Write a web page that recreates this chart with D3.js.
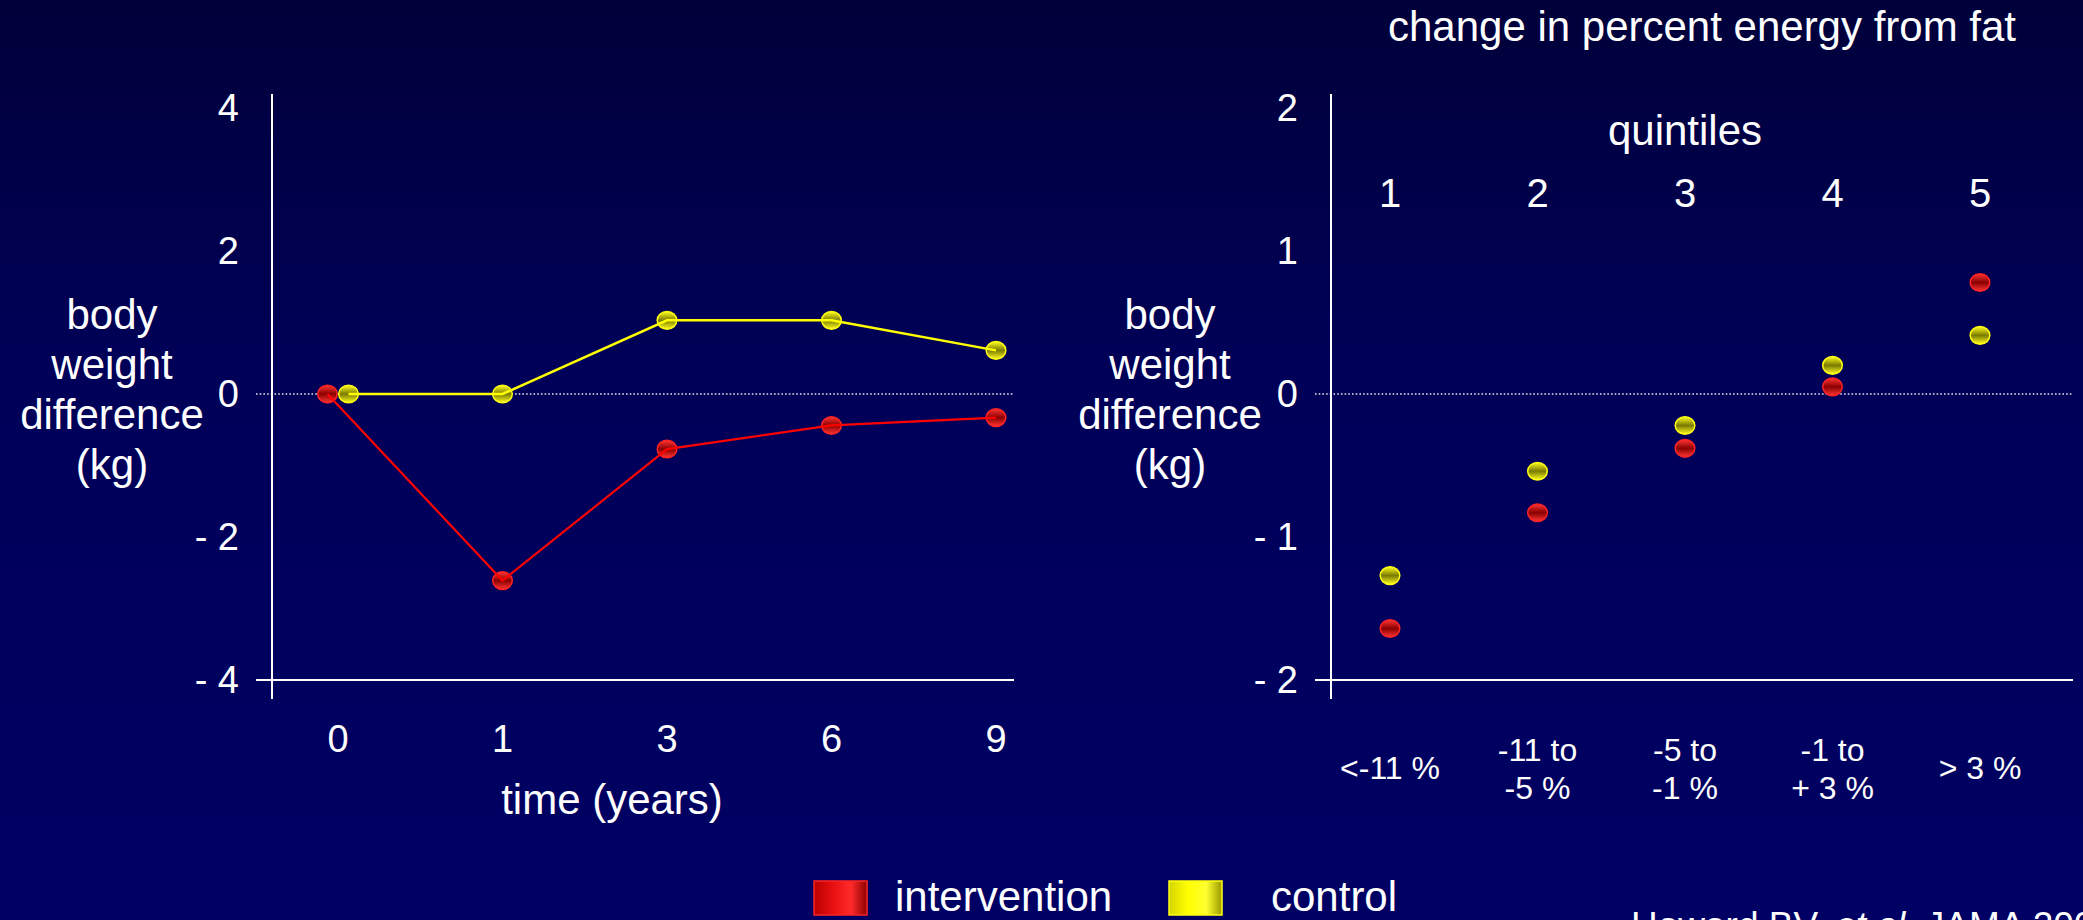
<!DOCTYPE html>
<html>
<head>
<meta charset="utf-8">
<script src="https://cdn.jsdelivr.net/npm/d3@7"></script>
<style>
  html, body { margin: 0; padding: 0; background: #000060; overflow: hidden; }
  svg { display: block; }
</style>
</head>
<body>
<svg id="chart" width="2083" height="920"></svg>
<script>
// ---- data -------------------------------------------------------------
const years = ["0", "1", "3", "6", "9"];
const timeIntervention = [0, -2.61, -0.77, -0.44, -0.33];
const timeControl      = [0, 0, 1.03, 1.03, 0.61];

const quintiles = ["1", "2", "3", "4", "5"];
const fatChangeLabels = [["<-11 %"], ["-11 to", "-5 %"], ["-5 to", "-1 %"], ["-1 to", "+ 3 %"], ["> 3 %"]];
const fatIntervention = [-1.64, -0.83, -0.38, 0.05, 0.78];
const fatControl      = [-1.27, -0.54, -0.22, 0.20, 0.41];

const timeTicks = [4, 2, 0, -2, -4];
const fatTicks  = [2, 1, 0, -1, -2];
const seriesNames = ["intervention", "control"];
const yTitleLines = ["body", "weight", "difference", "(kg)"];

// ---- setup ------------------------------------------------------------
const W = 2083, H = 920;
const FONT = "'Liberation Sans', Arial, Helvetica, sans-serif";
const svg = d3.select("#chart");
const defs = svg.append("defs");

const style = {
  intervention: { line: "#ff0000", light: "#ff3535", dark: "#8a0000", rim: "#ff2424", width: 2.2,
                  swatch: ["#b80000", "#e81010", "#ff2a2a", "#8c0000"] },
  control:      { line: "#ffff00", light: "#ffff20", dark: "#7a7a00", rim: "#ffff10", width: 2.5,
                  swatch: ["#d4d400", "#ffff00", "#ffff30", "#9a9a00"] }
};

// background: darker navy at the top fading to the slide blue
const bg = defs.append("linearGradient").attr("id", "bg")
  .attr("x1", 0).attr("y1", 0).attr("x2", 0).attr("y2", 1);
[[0, "#00003a"], [0.4, "#000058"], [1, "#000064"]].forEach(([o, c]) =>
  bg.append("stop").attr("offset", o).attr("stop-color", c));
svg.append("rect").attr("width", W).attr("height", H).attr("fill", "url(#bg)");

// marker and legend gradients per series
seriesNames.forEach(name => {
  const s = style[name];
  const dot = defs.append("linearGradient").attr("id", "dot-" + name)
    .attr("x1", 0).attr("y1", 0).attr("x2", 0).attr("y2", 1);
  [[0, s.light], [0.5, s.dark], [1, s.light]].forEach(([o, c]) =>
    dot.append("stop").attr("offset", o).attr("stop-color", c));
  const sw = defs.append("linearGradient").attr("id", "sw-" + name)
    .attr("x1", 0).attr("y1", 0).attr("x2", 1).attr("y2", 0);
  s.swatch.forEach((c, i) =>
    sw.append("stop").attr("offset", [0, 0.35, 0.7, 1][i]).attr("stop-color", c));
});

function text(g, x, y, str, size, anchor = "middle") {
  return g.append("text").attr("x", x).attr("y", y)
    .attr("fill", "#fff").attr("text-anchor", anchor)
    .style("font-family", FONT).style("font-size", size + "px").text(str);
}

function multiline(g, x, y0, lines, size, lh) {
  lines.forEach((l, i) => text(g, x, y0 + i * lh, l, size));
}

// axes frame: dotted zero line, baseline, vertical axis and value labels
function frame(g, axisX, rightX, y, ticks) {
  const [yBottom, yTop] = y.range();
  g.append("line")
    .attr("x1", axisX - 16).attr("x2", rightX).attr("y1", y(0)).attr("y2", y(0))
    .attr("stroke", "#e6e6e6").attr("stroke-width", 1.5).attr("stroke-dasharray", "1.6,2.1");
  g.append("line")
    .attr("x1", axisX - 16).attr("x2", rightX).attr("y1", yBottom).attr("y2", yBottom)
    .attr("stroke", "#ffffff").attr("stroke-width", 2);
  g.append("line")
    .attr("x1", axisX).attr("x2", axisX).attr("y1", yTop - 14).attr("y2", yBottom + 19)
    .attr("stroke", "#ffffff").attr("stroke-width", 2);
  const ax = g.append("g").attr("transform", `translate(${axisX},0)`)
    .call(d3.axisLeft(y).tickValues(ticks).tickSize(0).tickPadding(33)
      .tickFormat(v => v < 0 ? "- " + Math.abs(v) : String(v)));
  ax.select(".domain").remove();
  ax.selectAll("text").attr("fill", "#fff")
    .style("font-family", FONT).style("font-size", "38px");
}

// both series at each category, nudged apart sideways where they would overlap
function plotSeries(g, cats, x, y, seriesValues, withLines) {
  const dodge = cats.map((c, i) =>
    Math.abs(y(seriesValues[0][i]) - y(seriesValues[1][i])) < 12 ? 10.5 : 0);
  seriesNames.forEach((name, si) => {
    const s = style[name];
    const vals = seriesValues[si];
    const pts = cats.map((c, i) => [x(c) + (si === 0 ? -dodge[i] : dodge[i]), y(vals[i])]);
    g.selectAll(null).data(pts).join("ellipse")
      .attr("cx", d => d[0]).attr("cy", d => d[1]).attr("rx", 9.8).attr("ry", 8.8)
      .attr("fill", `url(#dot-${name})`).attr("stroke", s.rim).attr("stroke-width", 1.5);
    if (withLines) {
      g.append("path").attr("d", d3.line()(pts))
        .attr("fill", "none").attr("stroke", s.line).attr("stroke-width", s.width);
    }
  });
}

// ---- left panel: weight difference over time --------------------------
const gL = svg.append("g");
const xL = d3.scalePoint().domain(years).range([338, 996]);
const yL = d3.scaleLinear().domain([-4, 4]).range([680, 108]);
frame(gL, 272, 1014, yL, timeTicks);
plotSeries(gL, years, xL, yL, [timeIntervention, timeControl], true);
years.forEach(yr => text(gL, xL(yr), 752, yr, 38));
text(gL, 612, 814, "time (years)", 42);
multiline(gL, 112, 329, yTitleLines, 42, 50);

// ---- right panel: weight difference by quintile of fat change ---------
const gR = svg.append("g");
const xR = d3.scalePoint().domain(quintiles).range([1390, 1980]);
const yR = d3.scaleLinear().domain([-2, 2]).range([680, 108]);
frame(gR, 1331, 2073, yR, fatTicks);
plotSeries(gR, quintiles, xR, yR, [fatIntervention, fatControl], false);
quintiles.forEach(q => text(gR, xR(q), 207, q, 40));
text(gR, (xR.range()[0] + xR.range()[1]) / 2, 145, "quintiles", 42);
text(gR, 1702, 41, "change in percent energy from fat", 42);
fatChangeLabels.forEach((lines, i) => {
  const cx = xR(quintiles[i]);
  if (lines.length === 1) text(gR, cx, 779, lines[0], 32);
  else multiline(gR, cx, 761, lines, 32, 38);
});
multiline(gR, 1170, 329, yTitleLines, 42, 50);

// ---- legend -----------------------------------------------------------
const gLeg = svg.append("g");
seriesNames.forEach((name, i) => {
  const sx = 814 + i * 355;
  gLeg.append("rect").attr("x", sx).attr("y", 881).attr("width", 53).attr("height", 34)
    .attr("fill", `url(#sw-${name})`).attr("stroke", style[name].rim).attr("stroke-width", 1.5);
  text(gLeg, sx + 81 + i * 21, 911, name, 42, "start");
});

// ---- source -------------------------------------------------------------
const src = svg.append("text").attr("x", 1631).attr("y", 938).attr("fill", "#fff")
  .style("font-family", FONT).style("font-size", "37px");
src.append("tspan").text("Howard BV, ");
src.append("tspan").style("font-style", "italic").text("et al.");
src.append("tspan").text(" JAMA 2006");
</script>
</body>
</html>
